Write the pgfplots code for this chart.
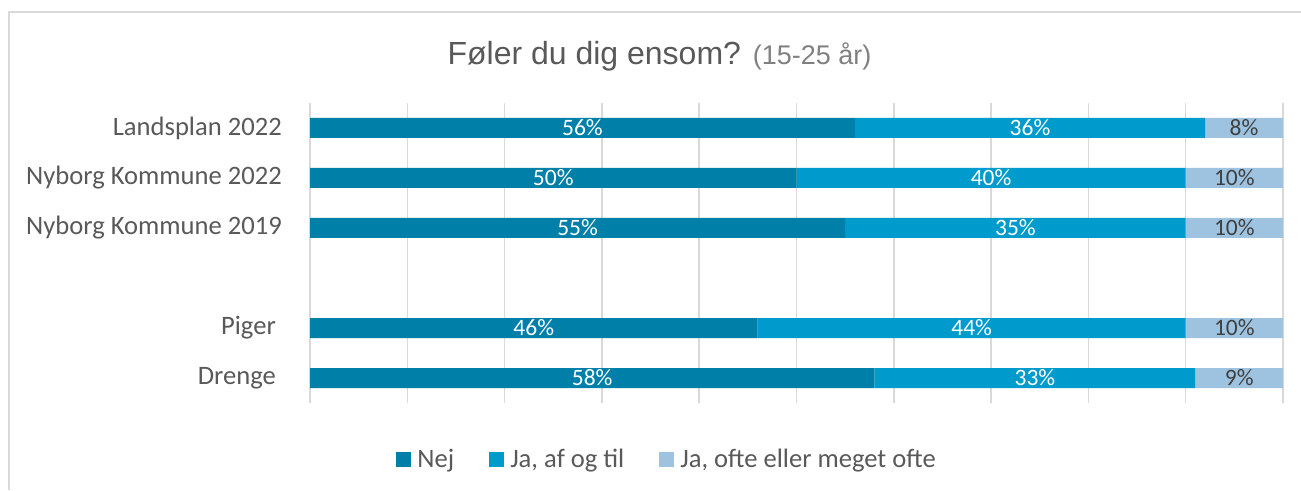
\documentclass[border=0pt]{standalone}
\usepackage{fontspec}
\setmainfont{Carlito}
\newfontfamily\arialfont{Liberation Sans}
\usepackage{pgfplots}
\usepackage{pgfplotstable}
\pgfplotsset{compat=1.18}
\definecolor{nej}{HTML}{0080A8}
\definecolor{ja}{HTML}{009BCD}
\definecolor{ofte}{HTML}{9DC3E0}
\definecolor{gridc}{HTML}{D9D9D9}
\definecolor{txt}{HTML}{595959}
\definecolor{sub}{HTML}{808080}
\definecolor{lbl}{HTML}{404040}
\pgfplotstableread{
y nej ja ofte
5 56 36 8
4 50 40 10
3 55 35 10
1 46 44 10
0 58 33 9
}\data
\begin{document}
\begin{tikzpicture}
\useasboundingbox (0pt,0pt) rectangle (1301pt,490pt);
\draw[gridc, line width=2pt] (9pt,0pt) -- (9pt,478pt) -- (1301pt,478pt);
\node[anchor=base, inner sep=0pt] at (659.5pt,425pt) {\arialfont\fontsize{32}{38}\selectfont\color{txt}Føler du dig ensom? {\fontsize{27}{32}\selectfont\color{sub}(15-25 år)}};
\begin{axis}[
  at={(310pt,87pt)}, anchor=south west,
  scale only axis, width=973pt, height=300pt,
  xbar stacked, bar width=20pt,
  xmin=0, xmax=100, ymin=-0.5, ymax=5.5,
  xtick={0,10,...,100}, xticklabels={},
  xmajorgrids, grid style={gridc, line width=1.5pt},
  ytick={0,1,3,4,5},
  yticklabels={\hbox{Drenge\kern6pt}, \hbox{Piger\kern6pt}, Nyborg Kommune 2019, Nyborg Kommune 2022, Landsplan 2022},
  yticklabel style={font=\fontsize{26.6}{31}\selectfont, text=txt, inner sep=0pt, xshift=-28pt},
  axis line style={draw=none},
  major tick length=0pt,
  legend style={at={(0.367,-0.187)}, anchor=center, draw=none, fill=none,
    font=\fontsize{26.6}{31}\selectfont, text=txt,
    /tikz/every even column/.append style={column sep=33pt}},
  legend columns=3,
]
\addplot[fill=nej, draw=none, legend image code/.code={\fill[nej] (0pt,-7.5pt) rectangle (15pt,7.5pt); \path (19pt,0pt);}] table[x=nej, y=y]{\data};
\addplot[fill=ja, draw=none, legend image code/.code={\fill[ja] (0pt,-7.5pt) rectangle (15pt,7.5pt); \path (19pt,0pt);}] table[x=ja, y=y]{\data};
\addplot[fill=ofte, draw=none, legend image code/.code={\fill[ofte] (0pt,-7.5pt) rectangle (15pt,7.5pt); \path (19pt,0pt);}] table[x=ofte, y=y]{\data};
\legend{Nej, {Ja, af og til}, {Ja, ofte eller meget ofte}}
\end{axis}
\begin{axis}[
  at={(310pt,87pt)}, anchor=south west,
  scale only axis, width=973pt, height=300pt,
  xmin=0, xmax=100, ymin=-0.5, ymax=5.5, hide axis,
]
\addplot[draw=none, nodes near coords, point meta=explicit symbolic,
  nodes near coords style={anchor=center, text=white, font=\fontsize{23.5}{28}\selectfont}]
  coordinates {(28,5)[56\%] (25,4)[50\%] (27.5,3)[55\%] (23,1)[46\%] (29,0)[58\%]
               (74,5)[36\%] (70,4)[40\%] (72.5,3)[35\%] (68,1)[44\%] (74.5,0)[33\%]};
\addplot[draw=none, nodes near coords, point meta=explicit symbolic,
  nodes near coords style={anchor=center, text=lbl, font=\fontsize{23.5}{28}\selectfont}]
  coordinates {(96,5)[8\%] (95,4)[10\%] (95,3)[10\%] (95,1)[10\%] (95.5,0)[9\%]};
\end{axis}
\end{tikzpicture}
\end{document}
